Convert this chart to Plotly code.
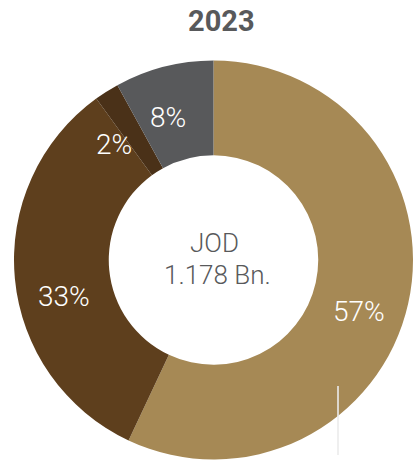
import plotly.graph_objects as go

# Revenue split for the year, in percent of the total
year_label = "2023"
segment_names = ["Segment A", "Segment B", "Segment C", "Segment D"]
segment_shares = [57, 33, 2, 8]
segment_colors = ["#A68955", "#5E3F1D", "#4A3118", "#58595B"]
total_currency = "JOD"
total_amount = "1.178 Bn."

W, H = 413, 462
TEXT_GREY = "#58595B"

# Where each percentage label sits (pixels from the top-left corner)
label_pos = [(359, 311), (64, 296), (114, 144), (168, 117)]

fig = go.Figure(
    go.Pie(
        labels=segment_names,
        values=segment_shares,
        marker=dict(colors=segment_colors, line=dict(width=0)),
        hole=0.525,
        sort=False,
        direction="clockwise",
        rotation=0,
        textinfo="none",
        hoverinfo="label+percent",
        showlegend=False,
        domain=dict(x=[14 / W, 1.0], y=[2 / H, 402 / H]),
    )
)


def px(x, y):
    return x / W, 1 - y / H


def label(x, y, text, font, height=None):
    ax, ay = px(x, y)
    fig.add_annotation(
        x=ax, y=ay, xref="paper", yref="paper",
        xanchor="center", yanchor="middle",
        text=text, showarrow=False, height=height, font=font,
    )


# Percentage labels on the ring
for share, (lx, ly) in zip(segment_shares, label_pos):
    label(lx, ly, f"{share}%",
          dict(family="Roboto", size=28, color="white", weight=300))

# Centre caption inside the hole
label(214, 243, total_currency,
      dict(family="Roboto", size=26, color=TEXT_GREY, weight=300), height=24)
label(218, 275, total_amount,
      dict(family="Roboto", size=26, color=TEXT_GREY, weight=300), height=24)

# Year heading
label(222, 21, f"<b>{year_label}</b>",
      dict(family="Roboto", size=29, color=TEXT_GREY))

# Thin light rule near the lower right of the ring
fig.add_shape(
    type="line", xref="paper", yref="paper",
    x0=338 / W, x1=338 / W, y0=1 - 386 / H, y1=1 - 455 / H,
    line=dict(color="rgba(235,235,235,0.8)", width=2),
)

fig.update_layout(
    width=W, height=H,
    margin=dict(l=0, r=0, t=0, b=0),
    paper_bgcolor="white",
    plot_bgcolor="white",
)

fig.write_html("out.html")
